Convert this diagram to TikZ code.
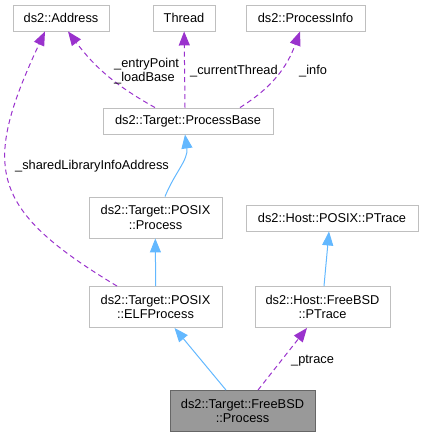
\documentclass[tikz,border=0pt]{standalone}
\usepackage{fontspec}
\setmainfont{Liberation Sans}
\usetikzlibrary{arrows.meta}
\definecolor{grey75}{HTML}{BFBFBF}
\definecolor{grey60}{HTML}{999999}
\definecolor{grey40}{HTML}{666666}
\definecolor{steel}{HTML}{63B8FF}
\definecolor{orchid}{HTML}{9A32CD}

\begin{document}
\begin{tikzpicture}[
    x=1pt, y=-1pt,
    cls/.style={draw=grey75, fill=white, line width=0.9pt, inner sep=0pt, align=center,
                minimum height=26, font=\fontsize{12.8}{14.3}\selectfont, text=black},
    cls2/.style={cls, minimum height=41},
    main/.style={cls2, draw=grey40, fill=grey60},
    inherit/.style={draw=steel, line width=1pt, -{Triangle[length=14pt, width=11pt]}},
    uses/.style={draw=orchid, line width=1pt, dash pattern=on 5pt off 3.5pt,
                 -{Triangle[length=14pt, width=11pt]}},
    lbl/.style={font=\fontsize{12.8}{14.3}\selectfont, align=left, inner sep=0pt, anchor=west},
  ]

  % Rahmen in Bildgröße
  \useasboundingbox (0,0) rectangle (423,437);

  % Klassen, obere Reihe
  \node[cls, minimum width=96]  (addr)   at (61,18)    {ds2::Address};
  \node[cls, minimum width=62]  (thread) at (184,18)   {Thread};
  \node[cls, minimum width=119] (pinfo)  at (305.5,18) {ds2::ProcessInfo};

  % Basisklassen
  \node[cls, minimum width=170]  (pbase)   at (188,121)   {ds2::Target::ProcessBase};
  \node[cls2, minimum width=133] (pproc)   at (155.5,217.5) {ds2::Target::POSIX\\::Process};
  \node[cls, minimum width=172]  (hptrace) at (332,218)   {ds2::Host::POSIX::PTrace};
  \node[cls2, minimum width=133] (elf)     at (155.5,307) {ds2::Target::POSIX\\::ELFProcess};
  \node[cls2, minimum width=135] (fptrace) at (322.5,307) {ds2::Host::FreeBSD\\::PTrace};

  % betrachtete Klasse
  \node[main, minimum width=145] (fproc) at (242.5,411) {ds2::Target::FreeBSD\\::Process};

  % Vererbung
  \draw[inherit] ([xshift=9.5]pproc.north) to[out=68, in=-82] ([xshift=-3]pbase.south);
  \draw[inherit] ([xshift=0.2]elf.north) -- ([xshift=-0.2]pproc.south);
  \draw[inherit] ([xshift=1.5]fptrace.north) -- ([xshift=-3]hptrace.south);
  \draw[inherit] ([xshift=-16.5]fproc.north) -- ([xshift=19]elf.south);

  % Benutzung
  \draw[uses] ([xshift=-33]pbase.north) to[bend left=12] ([xshift=7]addr.south);
  \draw[uses] ([xshift=-3]pbase.north) -- (thread);
  \draw[uses] ([xshift=52]pbase.north) to[out=32, in=-110] ([xshift=-5.5]pinfo.south);
  \draw[uses] ([xshift=-38.5]elf.north) to[out=149, in=-115, looseness=1.45] ([xshift=-16]addr.south);
  \draw[uses] ([xshift=15.5]fproc.north) -- ([xshift=-15.5]fptrace.south);

  % Beschriftungen
  \node[lbl] (l1) at (114,71)  {\_entryPoint\\\_loadBase};
  \node[lbl] (l2) at (190,71)  {\_currentThread};
  \node[lbl] (l3) at (299,71)  {\_info};
  \node[lbl] (l4) at (15,166)  {\_sharedLibraryInfoAddress};
  \node[lbl] (l5) at (291,361) {\_ptrace};

\end{tikzpicture}
\end{document}
